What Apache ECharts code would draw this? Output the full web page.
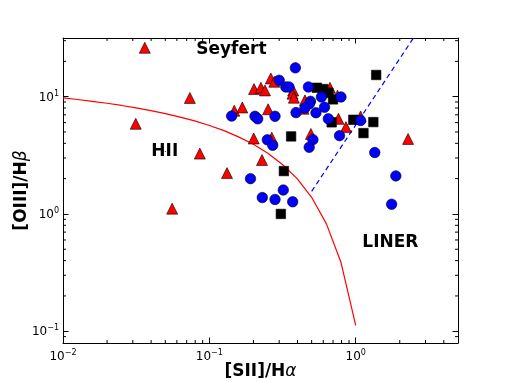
<!DOCTYPE html>
<html>
<head>
<meta charset="utf-8">
<script src="https://cdn.jsdelivr.net/npm/echarts@6/dist/echarts.min.js"></script>
<style>
  html, body { margin: 0; padding: 0; background: #fff; }
  #chart { width: 509px; height: 382px; }
</style>
</head>
<body>
<div id="chart"></div>
<script>
// [SII]/Halpha , [OIII]/Hbeta
var redTriangles = [
  [0.0362, 26.1], [0.0736, 9.75], [0.0314, 5.87], [0.0861, 3.27], [0.132, 2.23],
  [0.0557, 1.11], [0.148, 7.59], [0.168, 8.09], [0.202, 11.6], [0.225, 11.9],
  [0.240, 11.3], [0.263, 14.3], [0.278, 13.4], [0.252, 7.81], [0.201, 4.40],
  [0.267, 4.47], [0.229, 2.88], [0.374, 11.3], [0.370, 10.6], [0.378, 9.80],
  [0.450, 9.30], [0.440, 7.89], [0.667, 11.9], [0.751, 10.2], [0.762, 6.47],
  [0.858, 5.50], [1.08, 6.78], [0.494, 4.81], [2.28, 4.36]
];
var blackSquares = [
  [1.38, 15.3], [0.543, 11.9], [0.600, 11.6], [0.650, 10.8], [0.700, 9.48],
  [0.963, 6.35], [0.685, 6.04], [1.32, 6.07], [1.13, 4.89], [0.362, 4.58],
  [0.323, 2.32], [0.308, 1.00]
];
var blueCircles = [
  [0.387, 17.6], [0.300, 13.8], [0.333, 12.1], [0.350, 12.1], [0.475, 12.1],
  [0.583, 9.94], [0.793, 9.94], [0.491, 9.12], [0.483, 8.71], [0.450, 8.01],
  [0.612, 8.13], [0.535, 7.29], [0.391, 7.31], [0.142, 6.83], [0.205, 6.80],
  [0.214, 6.47], [0.281, 6.80], [0.650, 6.47], [1.08, 6.26], [0.249, 4.29],
  [0.271, 3.85], [0.510, 4.30], [0.481, 3.70], [0.775, 4.65], [1.35, 3.34],
  [1.88, 2.11], [0.191, 2.00], [0.230, 1.38], [0.281, 1.33], [0.320, 1.60],
  [0.371, 1.27], [1.76, 1.21]
];
// red demarcation curve, read point by point
var curveX = [0.01, 0.0126, 0.0158, 0.02, 0.0251, 0.0316, 0.0398, 0.0501, 0.0631, 0.0794,
  0.1, 0.126, 0.158, 0.2, 0.251, 0.316, 0.398, 0.501, 0.631, 0.794, 1.0];
var curveY = [9.76, 9.46, 9.13, 8.78, 8.41, 8.02, 7.61, 7.17, 6.70, 6.21,
  5.68, 5.13, 4.54, 3.93, 3.29, 2.64, 2.00, 1.38, 0.823, 0.385, 0.112];
var linerX = [0.5, 2.48];
var linerY = [1.56, 31.6];
var regionNames = ['Seyfert', 'HII', 'LINER'];
var regionX = [0.1426, 0.05, 1.74];
var regionY = [25.0, 3.4, 0.566];
var xMinorTicks = [0.02, 0.03, 0.04, 0.05, 0.06, 0.07, 0.08, 0.09,
  0.2, 0.3, 0.4, 0.5, 0.6, 0.7, 0.8, 0.9, 2, 3, 4];
var yMinorTicks = [0.09, 0.2, 0.3, 0.4, 0.5, 0.6, 0.7, 0.8, 0.9,
  2, 3, 4, 5, 6, 7, 8, 9, 20, 30];
var X_MIN = 0.01, X_MAX = 5, Y_MIN = 0.0794, Y_MAX = 31.62;

var FONT = 'DejaVu Sans';

function zip(xs, ys) {
  return xs.map(function (x, i) { return [x, ys[i]]; });
}

function powLabel(v) {
  var e = Math.log10(v);
  var r = Math.round(e);
  if (Math.abs(e - r) > 1e-6) return '';
  return '{b|10}{s|' + (r < 0 ? '\u2212' : '') + Math.abs(r) + '}';
}

var tickRich = {
  b: { fontSize: 12, fontFamily: FONT, color: '#000', lineHeight: 14, verticalAlign: 'bottom' },
  s: { fontSize: 8, fontFamily: FONT, color: '#000', lineHeight: 8, verticalAlign: 'top' }
};

function baseAxis(pos, show) {
  return {
    type: 'log',
    position: pos,
    axisLine: { show: true, lineStyle: { color: '#000', width: 1 } },
    axisTick: { show: true, inside: true, length: 5.5, lineStyle: { color: '#000', width: 1 } },
    axisLabel: { show: show, formatter: powLabel, rich: tickRich, margin: 6, showMinLabel: true, showMaxLabel: true },
    splitLine: { show: false },
    minorTick: { show: false },
    nameMoveOverlap: false
  };
}

var xBottom = Object.assign(baseAxis('bottom', true), {
  min: X_MIN, max: X_MAX,
  name: '{b|[SII]/H}{g|\u03b1}',
  nameLocation: 'middle',
  nameGap: 20,
  nameTextStyle: { rich: {
    b: { fontSize: 17, fontWeight: 'bold', fontFamily: FONT, color: '#000' },
    g: { fontSize: 17, fontStyle: 'italic', fontFamily: FONT, color: '#000' }
  } }
});
var xTop = Object.assign(baseAxis('top', false), { min: X_MIN, max: X_MAX });
var yLeft = Object.assign(baseAxis('left', true), {
  min: Y_MIN, max: Y_MAX,
  name: '{b|[OIII]/H}{g|\u03b2}',
  nameLocation: 'middle',
  nameGap: 33,
  nameRotate: 90,
  nameTextStyle: { rich: {
    b: { fontSize: 17, fontWeight: 'bold', fontFamily: FONT, color: '#000' },
    g: { fontSize: 17, fontStyle: 'italic', fontFamily: FONT, color: '#000' }
  } }
});
yLeft.axisLabel.margin = 4;
var yRight = Object.assign(baseAxis('right', false), { min: Y_MIN, max: Y_MAX });

function minorX(params, api) {
  var p = api.coord([api.value(0), Y_MIN]);
  var cs = params.coordSys;
  var b = cs.y + cs.height;
  return { type: 'group', children: [
    { type: 'line', shape: { x1: p[0], y1: b, x2: p[0], y2: b - 3 }, style: { stroke: '#000', lineWidth: 1 } },
    { type: 'line', shape: { x1: p[0], y1: cs.y, x2: p[0], y2: cs.y + 3 }, style: { stroke: '#000', lineWidth: 1 } }
  ] };
}
function minorY(params, api) {
  var p = api.coord([X_MIN, api.value(1)]);
  var cs = params.coordSys;
  var r = cs.x + cs.width;
  return { type: 'group', children: [
    { type: 'line', shape: { x1: cs.x, y1: p[1], x2: cs.x + 3, y2: p[1] }, style: { stroke: '#000', lineWidth: 1 } },
    { type: 'line', shape: { x1: r, y1: p[1], x2: r - 3, y2: p[1] }, style: { stroke: '#000', lineWidth: 1 } }
  ] };
}

var chart = echarts.init(document.getElementById('chart'));
chart.setOption({
  backgroundColor: '#ffffff',
  animation: false,
  grid: { left: 63, top: 38, width: 395, height: 305, show: false, containLabel: false, outerBoundsMode: 'none' },
  xAxis: [xBottom, xTop],
  yAxis: [yLeft, yRight],
  series: [
    {
      type: 'line', silent: true, showSymbol: false, z: 2,
      data: zip(curveX, curveY),
      lineStyle: { color: '#ff0000', width: 1.2 }
    },
    {
      type: 'line', silent: true, showSymbol: false, z: 2,
      data: zip(linerX, linerY),
      lineStyle: { color: '#0000ff', width: 1.2, type: [5, 3.5] }
    },
    {
      type: 'scatter', silent: true, z: 3, symbol: 'triangle', symbolSize: 11,
      data: redTriangles,
      itemStyle: { color: '#ff0000', borderColor: '#000', borderWidth: 0.6, opacity: 1 }
    },
    {
      type: 'scatter', silent: true, z: 4, symbol: 'rect', symbolSize: 9.5,
      data: blackSquares,
      itemStyle: { color: '#000000', borderColor: '#000', borderWidth: 0.6, opacity: 1 }
    },
    {
      type: 'scatter', silent: true, z: 5, symbol: 'circle', symbolSize: 10.5,
      data: blueCircles,
      itemStyle: { color: '#0000ff', borderColor: '#000', borderWidth: 0.6, opacity: 1 }
    },
    {
      type: 'scatter', silent: true, z: 6, symbolSize: 1,
      itemStyle: { color: '#000', opacity: 1 },
      data: regionNames.map(function (n, i) { return { name: n, value: [regionX[i], regionY[i]] }; }),
      label: {
        show: true, position: [0, 0], align: 'center', verticalAlign: 'middle',
        formatter: '{b}', opacity: 1,
        fontSize: 17, fontWeight: 'bold', fontFamily: FONT, color: '#000000',
        textBorderWidth: 0
      }
    },
    {
      type: 'custom', silent: true, z: 7, renderItem: minorX,
      data: xMinorTicks.map(function (v) { return [v, Y_MIN]; })
    },
    {
      type: 'custom', silent: true, z: 7, renderItem: minorY,
      data: yMinorTicks.map(function (v) { return [X_MIN, v]; })
    }
  ]
});
</script>
</body>
</html>
